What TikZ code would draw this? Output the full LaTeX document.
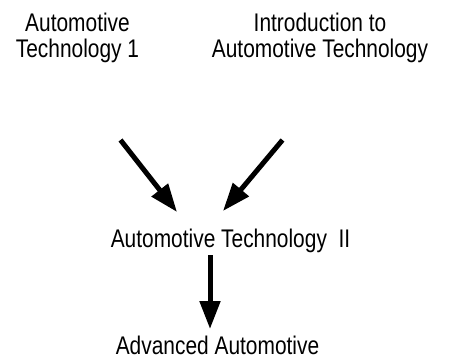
\documentclass[tikz,border=0pt]{standalone}
\usepackage{fontspec}
\setmainfont{Liberation Sans}[FakeStretch=0.82]
\usetikzlibrary{arrows.meta}
\tikzset{
	course/.style={align=center, inner sep=0pt, anchor=base},
	arr/.style={line width=5pt, -{Triangle[length=28pt,width=20pt]}}
}
\begin{document}
\begin{tikzpicture}[x=1pt, y=-1pt, font=\fontsize{25.5}{26}\selectfont, line join=miter]
	\useasboundingbox (0,0) rectangle (449,358);
	\node[course] (tech1) at (77.5,58) {Automotive\\Technology 1};
	\node[course] (intro) at (320,58) {Introduction to\\Automotive Technology};
	\node[course] (tech2) at (230.5,247) {Automotive Technology\ \ II};
	\node[course] (adv) at (217.5,354) {Advanced Automotive};
	\coordinate (s1) at (120.5,140); \coordinate (e1) at (177,212);
	\coordinate (s2) at (282.5,140); \coordinate (e2) at (223,211);
	\coordinate (s3) at (210,255); \coordinate (e3) at (210,329);
	\draw[arr] (s1)--(e1);
	\draw[arr] (s2)--(e2);
	\draw[arr] (s3)--(e3);
\end{tikzpicture}
\end{document}
